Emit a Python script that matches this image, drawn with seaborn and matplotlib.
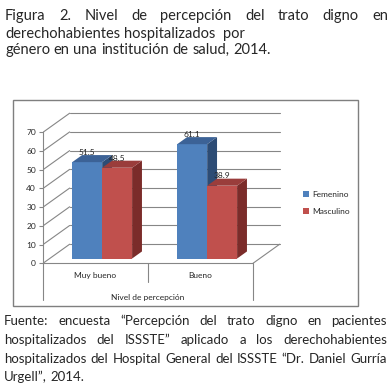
import pandas as pd
import matplotlib
matplotlib.use('Agg')
import matplotlib.pyplot as plt
import seaborn as sns
from matplotlib.patches import Polygon, Patch, Rectangle

# Datos
niveles = ['Muy bueno', 'Bueno']
femenino = [51.5, 61.1]
masculino = [48.5, 38.9]
generos = ['Femenino', 'Masculino']
y_ticks = [0, 10, 20, 30, 40, 50, 60, 70]

titulo = ['Figura 2. Nivel de percepción del trato digno en',
          'derechohabientes hospitalizados  por',
          'género en una institución de salud, 2014.']
fuente = ['Fuente: encuesta “Percepción del trato digno en pacientes',
          'hospitalizados del ISSSTE” aplicado a los derechohabientes',
          'hospitalizados del Hospital General del ISSSTE “Dr. Daniel Gurría',
          'Urgell”, 2014.']

df = pd.DataFrame({
    'nivel': niveles * 2,
    'genero': ['Femenino'] * 2 + ['Masculino'] * 2,
    'pct': femenino + masculino,
})

sns.set_style('white')
plt.rcParams['font.family'] = ['Lato', 'DejaVu Sans']

W, H = 391, 384
fig = plt.figure(figsize=(W / 100, H / 100), dpi=100)

# colores: frente, arriba, lado
colores = {
    'Femenino': ('#4F81BD', '#3C6296', '#2D4C75'),
    'Masculino': ('#C0504D', '#9A3D3B', '#7B2C2A'),
}
gris = '#868686'

ax = fig.add_axes([43 / W, 1 - 263.3 / H, 241.5 / W, 151.6 / H])
sns.barplot(data=df, x='nivel', y='pct', hue='genero', order=niveles,
            hue_order=generos, palette=[colores[g][0] for g in generos],
            width=0.57, saturation=1, legend=False, ax=ax, linewidth=0)

ax.set_xlim(-0.5, 1.8)
ax.set_ylim(0, 81)

# profundidad 3D (en unidades de datos)
DX, DY = 0.254, 10.2
f0, d = 0.25, 0.37
ox, oy = f0 * DX, f0 * DY

# paredes y rejilla
for t in y_ticks:
    ax.plot([-0.5 + DX, 1.5 + DX], [t + DY, t + DY], color=gris, lw=0.8, zorder=0.5)
    ax.plot([-0.5, -0.5 + DX], [t, t + DY], color=gris, lw=0.8, zorder=0.5)
ax.plot([1.5, 1.5 + DX], [0, DY], color=gris, lw=0.8, zorder=0.5)
ax.plot([-0.5, -0.5], [0, -19.6], color=gris, lw=0.8, clip_on=False)
ax.plot([1.5, 1.5], [0, -19.6], color=gris, lw=0.8, clip_on=False)
ax.plot([0.5, 0.5], [0, -10.0], color=gris, lw=0.8, clip_on=False)

# barras 3D
n = len(niveles)
for i, p in enumerate(ax.patches):
    g = generos[i // n]
    val = p.get_height()
    p.set_x(p.get_x() + ox)
    p.set_y(oy)
    p.set_zorder(2 + i // n)
    x0 = p.get_x()
    x1 = x0 + p.get_width()
    top = oy + val
    lado = Polygon([(x1, oy), (x1, top), (x1 + d * DX, top + d * DY), (x1 + d * DX, oy + d * DY)],
                   closed=True, fc=colores[g][2], ec='none', zorder=2 + i // n)
    tapa = Polygon([(x0, top), (x1, top), (x1 + d * DX, top + d * DY), (x0 + d * DX, top + d * DY)],
                   closed=True, fc=colores[g][1], ec='none', zorder=2 + i // n)
    ax.add_patch(lado)
    ax.add_patch(tapa)
    ax.annotate(f'{val:.1f}', ((x0 + x1) / 2, top), xytext=(0, 4.5), textcoords='offset points',
                ha='center', va='bottom', fontsize=6, color='#222222', zorder=5)

# ejes
sns.despine(ax=ax, top=True, right=True)
ax.spines['left'].set_bounds(0, 70)
ax.spines['bottom'].set_bounds(-0.5, 1.5)
for s in ['left', 'bottom']:
    ax.spines[s].set_color(gris)
    ax.spines[s].set_linewidth(0.8)
ax.set_yticks(y_ticks)
ax.set_yticklabels([str(t) for t in y_ticks])
ax.tick_params(axis='y', length=3, width=0.8, color=gris, labelsize=6, pad=2, left=True)
ax.tick_params(axis='x', length=0, labelsize=6, pad=6)
ax.set_ylabel('')
ax.set_xlabel('Nivel de percepción', fontsize=6)
ax.xaxis.set_label_coords(105 / 241.5, -31 / 151.6)
ax.patch.set_alpha(0)

# leyenda
handles = [Patch(fc=colores[g][0], ec='none', label=g) for g in generos]
fig.legend(handles=handles, loc='center left', bbox_to_anchor=(299 / W, 1 - 203 / H),
           frameon=False, fontsize=6, handlelength=0.7, handleheight=0.7,
           handletextpad=0.4, labelspacing=1.2, borderpad=0)

# marco del grafico
fig.add_artist(Rectangle((13.3 / W, 1 - 306 / H), 344.7 / W, 206 / H, fill=False,
                         ec='#7f7f7f', lw=1, transform=fig.transFigure))

# textos justificados
fig.canvas.draw()
renderer = fig.canvas.get_renderer()


def linea(texto, y, x0, x1, size, justificar):
    palabras = texto.split(' ')
    ts = [fig.text(0, 1 - y / H, w, fontsize=size, va='baseline', ha='left') for w in palabras]
    anchos = [t.get_window_extent(renderer).width if w else 0 for t, w in zip(ts, palabras)]
    if justificar and len(ts) > 1:
        gap = (x1 - x0 - sum(anchos)) / (len(ts) - 1)
    else:
        gap = fig.text(0, 0, ' ', fontsize=size).get_window_extent(renderer).width
    x = x0
    for t, a in zip(ts, anchos):
        t.set_x(x / W)
        x += a + gap


for k, (txt, y) in enumerate(zip(titulo, [20, 37.7, 54.3])):
    linea(txt, y, 5, 388, 10.5, k == 0)
for k, (txt, y) in enumerate(zip(fuente, [325, 344.3, 363.3, 381])):
    linea(txt, y, 4, 387, 9.5, k < 3)

plt.savefig('out.png', dpi=100)
